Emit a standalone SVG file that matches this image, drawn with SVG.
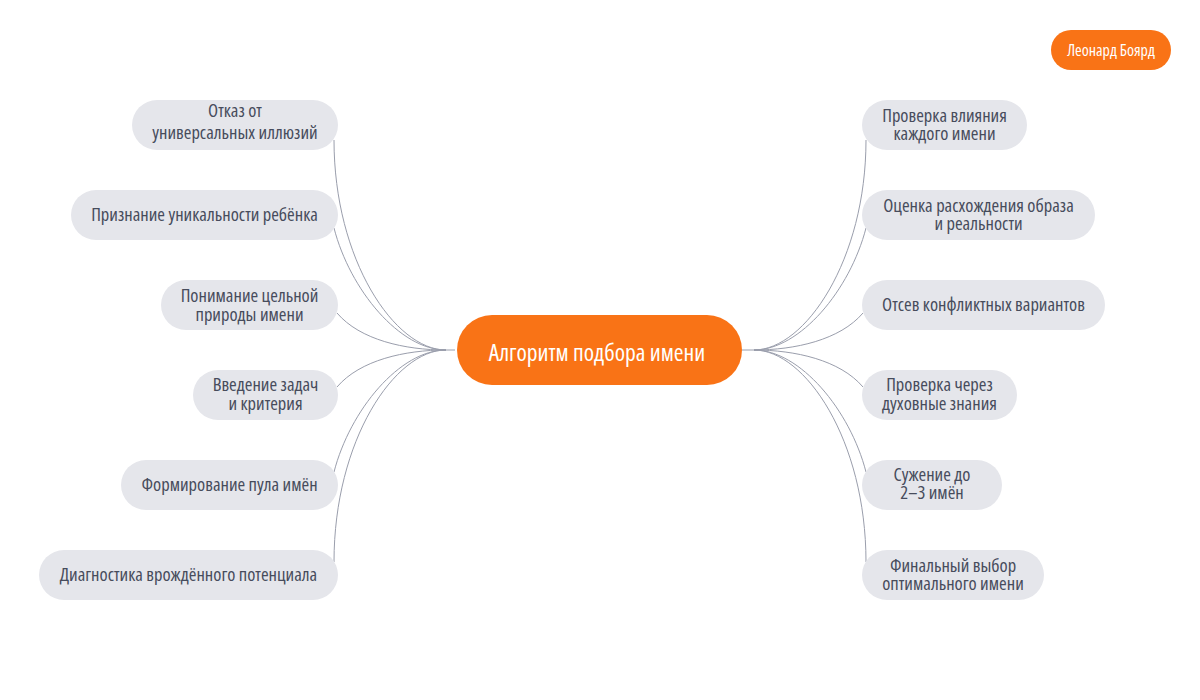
<svg xmlns="http://www.w3.org/2000/svg" width="1200" height="700" viewBox="0 0 1200 700">
<style>
.n rect{fill:#e5e6eb}
.n text{font-family:"Open Sans","DejaVu Sans Condensed","Liberation Sans Narrow",sans-serif;font-stretch:condensed;font-size:18.5px;fill:#474c5c;text-anchor:middle}
.c path{fill:none;stroke:#9a9eac;stroke-width:1}
.o rect{fill:#f97316}
.o text{font-family:"Open Sans","DejaVu Sans Condensed",sans-serif;font-stretch:condensed;fill:#ffffff;text-anchor:middle}
</style>
<rect width="1200" height="700" fill="#ffffff"/>
<g id="connectors" class="c">
<path d="M455,350 L446,350 C395,350 334,260 334,140"/>
<path d="M446,350 C400,350 350,290 334,228"/>
<path d="M446,350 C405,350 360,340 337,313"/>
<path d="M446,350 C405,350 360,360 337,387"/>
<path d="M446,350 C400,350 350,410 334,472"/>
<path d="M446,350 C395,350 334,440 334,562"/>
<path d="M742,350 L754,350 C805,350 866,260 866,140"/>
<path d="M754,350 C800,350 850,290 866,228"/>
<path d="M754,350 C795,350 840,340 863,313"/>
<path d="M754,350 C795,350 840,360 863,387"/>
<path d="M754,350 C800,350 850,410 866,472"/>
<path d="M754,350 C805,350 866,440 866,562"/>
</g>
<g id="center" class="o">
<rect x="457" y="315" width="285" height="70" rx="35"/>
<text x="597" y="361" font-size="23.5">Алгоритм подбора имени</text>
</g>
<g id="author" class="o">
<rect x="1051" y="30" width="120" height="40" rx="20"/>
<text x="1111" y="56" font-size="16">Леонард Боярд</text>
</g>
<g id="l1" class="n"><rect x="132" y="100" width="206" height="50" rx="25"/><text x="235" y="117">Отказ от</text><text x="235" y="139">универсальных иллюзий</text></g>
<g id="l2" class="n"><rect x="71" y="190" width="267" height="50" rx="25"/><text x="204.5" y="221">Признание уникальности ребёнка</text></g>
<g id="l3" class="n"><rect x="161" y="280" width="177" height="50" rx="25"/><text x="249.5" y="302">Понимание цельной</text><text x="249.5" y="321">природы имени</text></g>
<g id="l4" class="n"><rect x="193" y="370" width="145" height="50" rx="25"/><text x="265.5" y="391">Введение задач</text><text x="265.5" y="410">и критерия</text></g>
<g id="l5" class="n"><rect x="121" y="460" width="217" height="50" rx="25"/><text x="229.5" y="491">Формирование пула имён</text></g>
<g id="l6" class="n"><rect x="39" y="550" width="299" height="50" rx="25"/><text x="188.5" y="581">Диагностика врождённого потенциала</text></g>
<g id="r1" class="n"><rect x="862" y="100" width="165" height="50" rx="25"/><text x="944.5" y="122">Проверка влияния</text><text x="944.5" y="140">каждого имени</text></g>
<g id="r2" class="n"><rect x="862" y="190" width="233" height="50" rx="25"/><text x="978.5" y="212">Оценка расхождения образа</text><text x="978.5" y="230">и реальности</text></g>
<g id="r3" class="n"><rect x="862" y="280" width="243" height="50" rx="25"/><text x="983.5" y="311">Отсев конфликтных вариантов</text></g>
<g id="r4" class="n"><rect x="862" y="370" width="155" height="50" rx="25"/><text x="939.5" y="391">Проверка через</text><text x="939.5" y="410">духовные знания</text></g>
<g id="r5" class="n"><rect x="862" y="460" width="140" height="50" rx="25"/><text x="932" y="481">Сужение до</text><text x="932" y="499">2–3 имён</text></g>
<g id="r6" class="n"><rect x="862" y="550" width="182" height="50" rx="25"/><text x="953" y="572">Финальный выбор</text><text x="953" y="590">оптимального имени</text></g>
</svg>
